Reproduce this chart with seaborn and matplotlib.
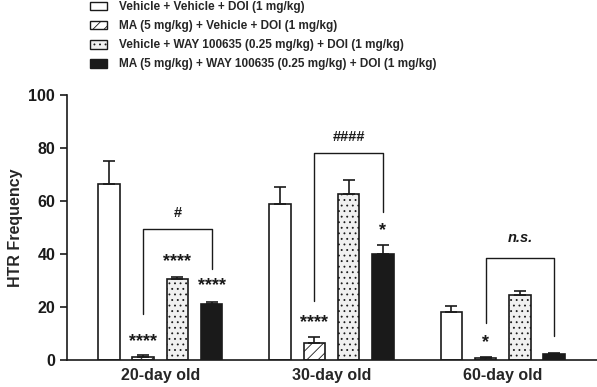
import numpy as np
import pandas as pd
import seaborn as sns
import matplotlib.pyplot as plt
from matplotlib.patches import Patch

ages = ["20-day old", "30-day old", "60-day old"]
treatments = [
    "Vehicle + Vehicle + DOI (1 mg/kg)",
    "MA (5 mg/kg) + Vehicle + DOI (1 mg/kg)",
    "Vehicle + WAY 100635 (0.25 mg/kg) + DOI (1 mg/kg)",
    "MA (5 mg/kg) + WAY 100635 (0.25 mg/kg) + DOI (1 mg/kg)",
]
# mean HTR per treatment, one value per age group
veh_veh = [66.5, 58.8, 18.3]
ma_veh = [1.0, 6.5, 0.6]
veh_way = [30.5, 62.5, 24.5]
ma_way = [21.0, 40.0, 2.4]
# SEM
veh_veh_err = [8.5, 6.4, 2.2]
ma_veh_err = [0.8, 2.0, 0.4]
veh_way_err = [1.0, 5.5, 1.7]
ma_way_err = [1.0, 3.5, 0.4]

# significance marks above bars (age index, treatment index, text, y)
stars = [
    (0, 1, "****", 7.0), (0, 2, "****", 37.0), (0, 3, "****", 28.0),
    (1, 1, "****", 14.0), (1, 3, "*", 49.0),
    (2, 1, "*", 6.5),
]
# brackets between MA groups: (age, y_top, left leg bottom, right leg bottom, label, label y)
brackets = [
    (0, 49.4, 17.4, 34.3, "#", 55.3),
    (1, 78.0, 22.3, 56.0, "####", 84.0),
    (2, 38.5, 14.0, 9.0, "n.s.", 46.0),
]

means = [veh_veh, ma_veh, veh_way, ma_way]
errs = [veh_veh_err, ma_veh_err, veh_way_err, ma_way_err]
rows = []
for t, m, e in zip(treatments, means, errs):
    for a, v, s in zip(ages, m, e):
        rows.append({"age": a, "treatment": t, "htr": v, "sem": s})
df = pd.DataFrame(rows)

sns.set_style("ticks")
plt.rcParams["font.family"] = ["Liberation Sans", "DejaVu Sans"]
plt.rcParams["hatch.linewidth"] = 0.6
plt.rcParams["hatch.color"] = "#888888"

fig = plt.figure(figsize=(5.97, 3.87), dpi=100)
ax = fig.add_axes([67 / 597, 27 / 387, 1 - 67 / 597, (360 - 95) / 387])

colors = ["white", "white", "#f0f0f0", "#1a1a1a"]
hatches = ["", "///", "...", ""]
sns.barplot(data=df, x="age", y="htr", hue="treatment", hue_order=treatments,
            order=ages, palette=colors, errorbar=None, width=0.8, gap=0.375,
            edgecolor="#1a1a1a", linewidth=1.2, legend=False, ax=ax)

bar_groups = list(ax.containers)
centers = {}
for ti, cont in enumerate(bar_groups):
    for ai, bar in enumerate(cont):
        bar.set_hatch(hatches[ti])
        bar.set_edgecolor("#1a1a1a")
        cx = bar.get_x() + bar.get_width() / 2
        centers[(ai, ti)] = cx
        ax.errorbar(cx, means[ti][ai], yerr=[[0], [errs[ti][ai]]], fmt="none",
                    ecolor="#1a1a1a", elinewidth=1.2, capsize=4, capthick=1.2)

for ai, ti, s, y in stars:
    ax.text(centers[(ai, ti)], y, s, ha="center", va="center", fontsize=13,
            fontweight="bold", color="#1a1a1a")

for ai, top, lb, rb, lab, ly in brackets:
    x1, x2 = centers[(ai, 1)], centers[(ai, 3)]
    ax.plot([x1, x1, x2, x2], [lb, top, top, rb], color="#1a1a1a", lw=1.0)
    style = "italic" if lab == "n.s." else "normal"
    ax.text((x1 + x2) / 2, ly, lab, ha="center", va="center", fontsize=10.5,
            fontweight="bold", fontstyle=style, color="#1a1a1a")

ax.set_ylim(0, 100)
ax.set_xlim(-0.544, 2.55)
ax.set_yticks([0, 20, 40, 60, 80, 100])
ax.set_ylabel("HTR Frequency", fontsize=11.5, fontweight="bold")
ax.set_xlabel("")
ax.tick_params(axis="y", labelsize=11.5, length=5, width=1.2, colors="#1a1a1a")
ax.tick_params(axis="x", labelsize=11.5, length=0, pad=6)
for lbl in ax.get_xticklabels() + ax.get_yticklabels():
    lbl.set_fontweight("bold")
sns.despine(ax=ax)
for sp in ["left", "bottom"]:
    ax.spines[sp].set_linewidth(1.2)
    ax.spines[sp].set_color("#1a1a1a")

handles = [Patch(facecolor=c, edgecolor="#1a1a1a", hatch=h, linewidth=1.0)
           for c, h in zip(colors, hatches)]
leg = fig.legend(handles, treatments, loc="upper left",
                 bbox_to_anchor=(89 / 597, 1.0), frameon=False,
                 borderpad=0.1, borderaxespad=0,
                 prop={"weight": "bold", "size": 8.5}, handlelength=1.45,
                 handleheight=0.75, labelspacing=0.6, handletextpad=0.95)

fig.savefig("out.png", dpi=100)
